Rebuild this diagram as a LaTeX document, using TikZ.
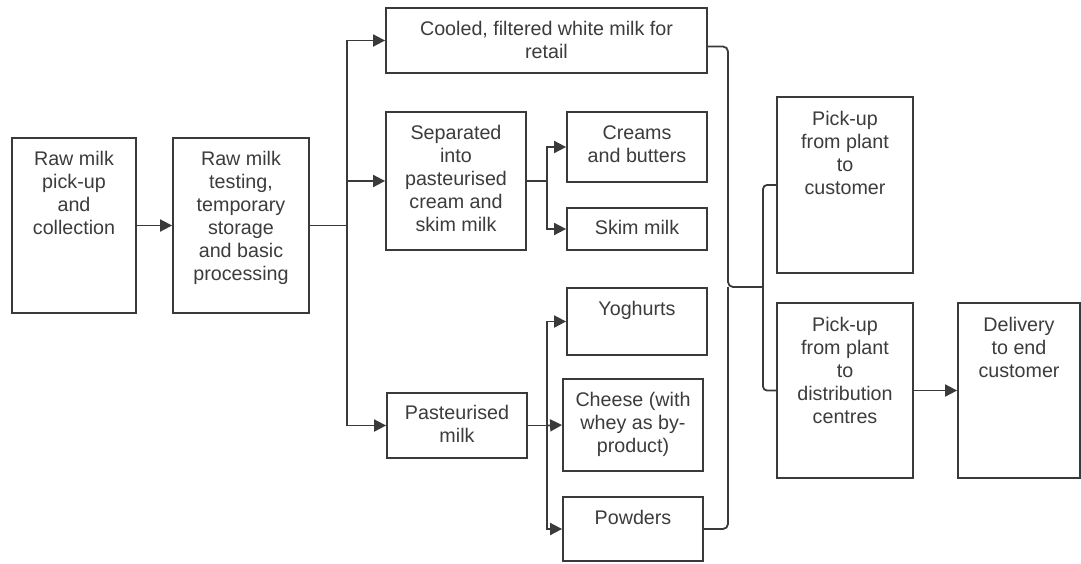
\documentclass[tikz,border=0pt]{standalone}
\usepackage{fontspec}
\setmainfont{Liberation Sans}
\usetikzlibrary{arrows.meta}
\definecolor{linec}{HTML}{3A3A3A}
\definecolor{textc}{HTML}{3C3C3C}
\begin{document}
\begin{tikzpicture}[x=1pt,y=-1pt,
  box/.style={draw=linec, line width=1.8pt, fill=white, inner sep=0pt},
  txt/.style={text=textc, font=\fontsize{19.7}{23}\selectfont, align=center, inner sep=0pt, anchor=north},
  conn/.style={draw=linec, line width=1.8pt},
  arr/.style={conn, -{Triangle[length=12pt,width=12pt]}}]
\useasboundingbox (0,0) rectangle (1081,563);

% boxes
\node[box, minimum width=124pt, minimum height=175pt] (b1) at (74,225.5) {};
\node[box, minimum width=136pt, minimum height=175pt] (b2) at (241,225.5) {};
\node[box, minimum width=321pt, minimum height=65pt] (cool) at (546.5,40.5) {};
\node[box, minimum width=140pt, minimum height=138pt] (sep) at (456,181) {};
\node[box, minimum width=140pt, minimum height=70pt] (cream) at (637,147) {};
\node[box, minimum width=140pt, minimum height=42pt] (skim) at (637,229) {};
\node[box, minimum width=140pt, minimum height=65pt] (past) at (457,425.5) {};
\node[box, minimum width=140pt, minimum height=67pt] (yog) at (637,321.5) {};
\node[box, minimum width=140pt, minimum height=92pt] (chs) at (633,425) {};
\node[box, minimum width=140pt, minimum height=64pt] (pow) at (633,529) {};
\node[box, minimum width=136pt, minimum height=176pt] (cust) at (845,185) {};
\node[box, minimum width=136pt, minimum height=175pt] (dist) at (845,390.5) {};
\node[box, minimum width=122pt, minimum height=175pt] (del) at (1019,390.5) {};

% texts
\node[txt] (b1t) at ([yshift=-14pt]b1.north) {Raw milk\\pick-up\\and\\collection};
\node[txt] (b2t) at ([yshift=-14pt]b2.north) {Raw milk\\testing,\\temporary\\storage\\and basic\\processing};
\node[txt] (coolt) at ([yshift=-14pt]cool.north) {Cooled, filtered white milk for\\retail};
\node[txt] (sept) at ([yshift=-14pt]sep.north) {Separated\\into\\pasteurised\\cream and\\skim milk};
\node[txt] (creamt) at ([yshift=-14pt]cream.north) {Creams\\and butters};
\node[txt] (skimt) at ([yshift=-13pt]skim.north) {Skim milk};
\node[txt] (pastt) at ([yshift=-13pt]past.north) {Pasteurised\\milk};
\node[txt] (yogt) at ([yshift=-14pt]yog.north) {Yoghurts};
\node[txt] (chst) at ([yshift=-14pt]chs.north) {Cheese (with\\whey as by-\\product)};
\node[txt] (powt) at ([yshift=-14pt]pow.north) {Powders};
\node[txt] (custt) at ([yshift=-15pt]cust.north) {Pick-up\\from plant\\to\\customer};
\node[txt] (distt) at ([yshift=-15pt]dist.north) {Pick-up\\from plant\\to\\distribution\\centres};
\node[txt] (delt) at ([yshift=-15pt]del.north) {Delivery\\to end\\customer};

% junction points
\coordinate (t) at (347,225.5);
\coordinate (s1) at (547,181);
\coordinate (p1) at (547,425.5);
\coordinate (tip) at (728,287);
\coordinate (j) at (763,287);

% connectors
\draw[arr] (b1) -- (b2);
\draw[conn] (b2.east) -- (t);
\draw[arr] (t) |- (cool.west);
\draw[arr] (t) |- (sep.west);
\draw[arr] (t) |- (past.west);
\draw[conn] (sep.east) -- (s1);
\draw[arr] (s1) |- (cream.west);
\draw[arr] (s1) |- (skim.west);
\draw[conn] (past.east) -- (p1);
\draw[arr] (p1) |- (yog.west);
\draw[arr] (p1) -- (chs.west);
\draw[arr] (p1) |- (pow.west);
\draw[conn, rounded corners=5pt] ([yshift=-6pt]cool.east) -| (tip) -- (j);
\draw[conn, rounded corners=5pt] (pow.east) -| (tip);
\draw[conn, rounded corners=4pt] (cust.west) -| (j) |- (dist.west);
\draw[arr] (dist) -- (del);
\end{tikzpicture}
\end{document}
